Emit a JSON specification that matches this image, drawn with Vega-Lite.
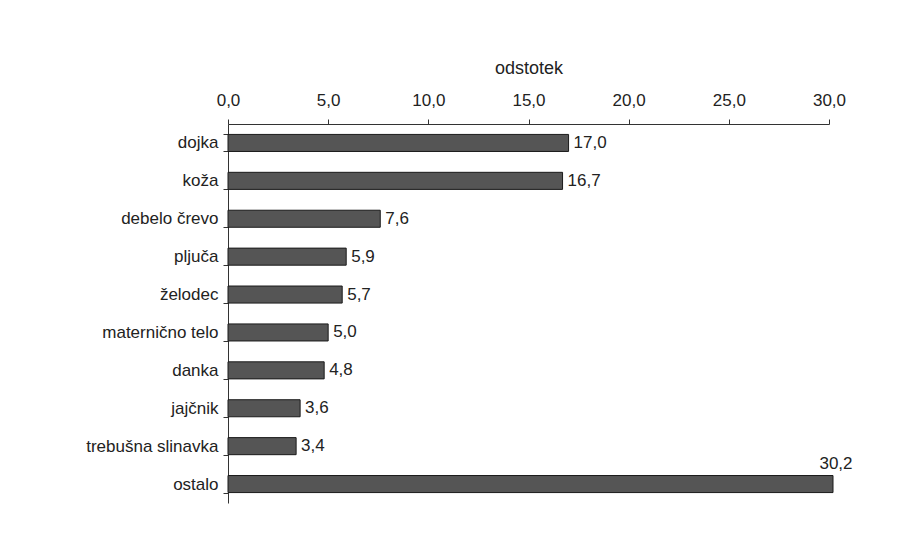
{
  "$schema": "https://vega.github.io/schema/vega-lite/v6.json",
  "autosize": "none",
  "width": 601,
  "height": 379,
  "padding": {"left": 228, "top": 124, "right": 93, "bottom": 45},
  "background": "white",
  "config": {
    "view": {"stroke": null},
    "font": "Liberation Sans",
    "locale": {"number": {"decimal": ",", "thousands": ".", "grouping": [3], "currency": ["", " €"]}}
  },
  "data": {
    "values": [
      {"organ": "dojka", "pct": 17.0},
      {"organ": "koža", "pct": 16.7},
      {"organ": "debelo črevo", "pct": 7.6},
      {"organ": "pljuča", "pct": 5.9},
      {"organ": "želodec", "pct": 5.7},
      {"organ": "maternično telo", "pct": 5.0},
      {"organ": "danka", "pct": 4.8},
      {"organ": "jajčnik", "pct": 3.6},
      {"organ": "trebušna slinavka", "pct": 3.4},
      {"organ": "ostalo", "pct": 30.2}
    ]
  },
  "encoding": {
    "y": {
      "field": "organ",
      "type": "nominal",
      "sort": null,
      "scale": {"paddingInner": 0.55, "paddingOuter": 0.275},
      "axis": {
        "title": null,
        "orient": "left",
        "tickBand": "extent",
        "tickSize": 5,
        "tickColor": "#333",
        "domainColor": "#333",
        "labelFont": "Liberation Sans",
        "labelFontSize": 17,
        "labelColor": "#222",
        "labelPadding": 5
      }
    },
    "x": {
      "field": "pct",
      "type": "quantitative",
      "scale": {"domain": [0, 30], "nice": false},
      "axis": {
        "orient": "top",
        "title": "odstotek",
        "values": [0, 5, 10, 15, 20, 25, 30],
        "format": ".1f",
        "grid": false,
        "labelFlush": false,
        "tickSize": 5,
        "tickColor": "#333",
        "domainColor": "#333",
        "labelFont": "Liberation Sans",
        "labelFontSize": 17,
        "labelColor": "#222",
        "labelPadding": 10,
        "titleFont": "Liberation Sans",
        "titleFontSize": 18,
        "titleFontWeight": "normal",
        "titleColor": "#222",
        "titlePadding": 14
      }
    }
  },
  "layer": [
    {
      "mark": {"type": "bar", "fill": "#555555", "stroke": "#1a1a1a", "strokeWidth": 1, "clip": false}
    },
    {
      "transform": [{"filter": "datum.organ != 'ostalo'"}],
      "mark": {"type": "text", "align": "left", "baseline": "middle", "dx": 5, "fontSize": 17, "font": "Liberation Sans", "color": "#222"},
      "encoding": {"text": {"field": "pct", "type": "quantitative", "format": ".1f"}}
    },
    {
      "transform": [{"filter": "datum.organ == 'ostalo'"}],
      "mark": {"type": "text", "align": "center", "baseline": "alphabetic", "dx": 3, "dy": -15, "fontSize": 17, "font": "Liberation Sans", "color": "#222"},
      "encoding": {"text": {"field": "pct", "type": "quantitative", "format": ".1f"}}
    }
  ]
}
